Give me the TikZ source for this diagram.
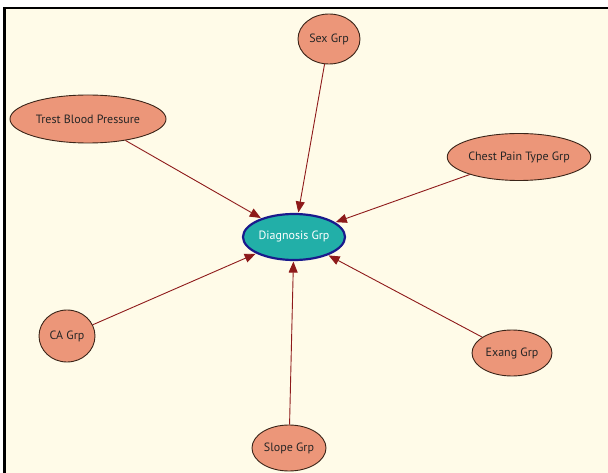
\documentclass[tikz,border=0pt]{standalone}
\usepackage{fontspec}
\setmainfont{PT Sans}
\usetikzlibrary{arrows.meta,shapes.geometric}
\definecolor{bgcream}{HTML}{FFFBE8}
\definecolor{salmonfill}{HTML}{EC9679}
\definecolor{nodeedge}{HTML}{3A2418}
\definecolor{tealfill}{HTML}{22AFA8}
\definecolor{navyedge}{HTML}{1A1A8C}
\definecolor{edgered}{HTML}{8E1A1A}
\tikzset{
  grp/.style={ellipse, draw=nodeedge, line width=0.9pt, fill=salmonfill, inner sep=0pt, text=black!85, font=\fontsize{12}{14}\selectfont},
  target/.style={ellipse, draw=navyedge, line width=2.2pt, fill=tealfill, inner sep=0pt, text=white, font=\fontsize{12}{14}\selectfont},
  link/.style={draw=edgered, line width=0.9pt, -{Triangle[length=11pt,width=9pt]}, shorten >=0.5pt}
}
\begin{document}
\begin{tikzpicture}[x=1pt,y=-1pt]
\useasboundingbox (0,0) rectangle (608,473);
\fill[white] (0,0) rectangle (608,473);
\fill[bgcream] (4.5,8) rectangle (608,473);
\draw[black, line width=2.5pt] (4.5,473) -- (4.5,8) -- (608,8);
\node[target, minimum width=102pt, minimum height=46pt] (diag) at (294,237) {Diagnosis Grp};
\node[grp, minimum width=62pt, minimum height=50pt] (sex) at (329,39) {Sex Grp};
\node[grp, minimum width=156pt, minimum height=48pt] (trest) at (88,119) {Trest Blood Pressure};
\node[grp, minimum width=122pt, minimum height=47pt] (chest) at (519,157) {Chest Pain Type Grp};
\node[grp, minimum width=56pt, minimum height=52pt] (ca) at (67,336) {CA Grp};
\node[grp, minimum width=80pt, minimum height=46pt] (exang) at (512,353) {Exang Grp};
\node[grp, minimum width=74pt, minimum height=46pt] (slope) at (289,448) {Slope Grp};
\draw[link] (sex) -- (diag);
\draw[link] (trest) -- (diag);
\draw[link] (chest) -- (diag);
\draw[link] (ca) -- (diag);
\draw[link] (exang) -- (diag);
\draw[link] (slope) -- (diag);
\end{tikzpicture}
\end{document}
